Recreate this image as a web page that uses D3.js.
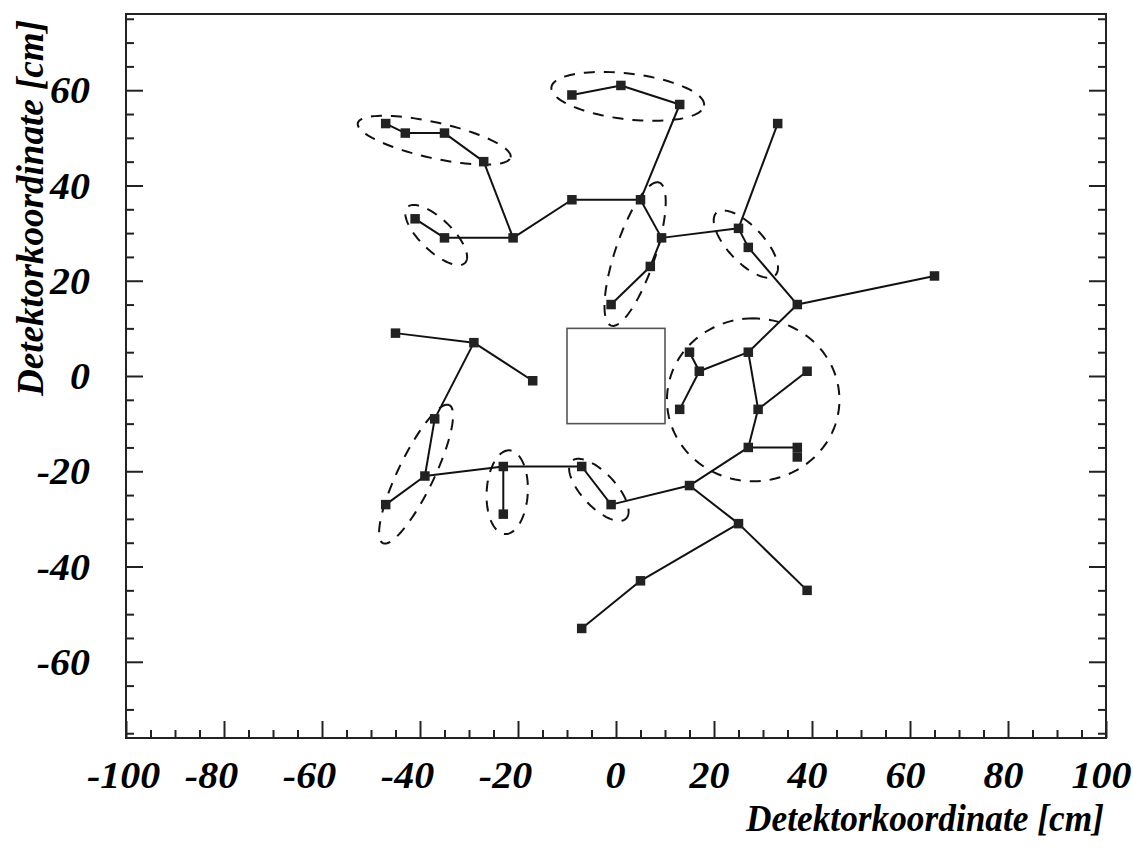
<!DOCTYPE html>
<html>
<head>
<meta charset="utf-8">
<script src="https://cdn.jsdelivr.net/npm/d3@7"></script>
<style>
  html, body { margin: 0; padding: 0; background: #fff; }
  svg { display: block; }
  text { font-family: "Liberation Serif", "Times New Roman", serif; font-weight: bold; font-style: italic; fill: #000; }
</style>
</head>
<body>
<svg id="chart" width="1133" height="852"></svg>
<script>
// Hit positions in detector coordinates [cm]
const hitX = [-47, -43, -35, -27, -21, -35, -41, -9, 5, -9, 1, 13, 9.3, 7, -1, 25, 27, 37, 65, 33,
              15, 27, 17, 13, 29, 39, 27, 37, 37, 15, 25, 5, -7, 39, -7, -1, -45, -29, -17, -37, -39, -47, -23, -23];
const hitY = [53, 51, 51, 45, 29, 29, 33, 37, 37, 59, 61, 57, 29, 23, 15, 31, 27, 15, 21, 53,
              5, 5, 1, -7, -7, 1, -15, -15, -17, -23, -31, -43, -53, -45, -19, -27, 9, 7, -1, -9, -21, -27, -19, -29];

// Tree connections between hits (index pairs)
const links = [[0,1],[1,2],[2,3],[3,4],[6,5],[5,4],[4,7],[7,8],[8,11],[9,10],[10,11],
               [8,12],[12,13],[13,14],[12,15],[15,19],[15,16],[16,17],[17,18],[17,21],
               [21,22],[22,20],[22,23],[21,24],[24,25],[24,26],[26,27],[26,29],
               [29,35],[29,30],[30,31],[31,32],[30,33],[35,34],[34,42],[42,43],[42,40],
               [40,41],[40,39],[39,37],[37,36],[37,38]];

// Cluster ellipses: centre, semi-axes [cm] and orientation [deg]
const ellCx    = [-37.1, -36.7, 2.4, 3.9, 26.5, 28.0, -40.8, -22.2, -3.5];
const ellCy    = [49.5, 29.6, 58.7, 25.6, 27.7, -5.0, -20.6, -24.4, -23.9];
const ellA     = [16.0, 8.3, 15.7, 15.8, 8.9, 17.1, 16.0, 8.8, 8.2];
const ellB     = [3.75, 3.3, 4.8, 4.1, 3.7, 17.6, 3.7, 4.2, 3.5];
const ellAngle = [-13, -45, -7, 72, -48, 90, 65, 87, -48];

// Central beam-pipe opening [cm]
const boxX = [-10, 10];
const boxY = [-10, 10];

// Axis ticks
const xMajor = d3.range(-100, 101, 20);
const xMinor = d3.range(-100, 101, 5).filter(v => v % 20 !== 0);
const yMajor = d3.range(-60, 61, 20);
const yMinor = d3.range(-75, 76, 5).filter(v => v % 20 !== 0);
const xTitle = "Detektorkoordinate [cm]";
const yTitle = "Detektorkoordinate [cm]";

const svg = d3.select("#chart");
const L = 126, R = 1106, T = 14, B = 738;
const x = d3.scaleLinear().domain([-100, 100]).range([L, R]);
const y = d3.scaleLinear().domain([-76, 76]).range([B, T]);
const stretch = 1.08;
const fmt = d => String(d);

// Axes
const ax = svg.append("g").attr("class", "axes");
function styleAxis(g) {
  g.select(".domain").remove();
  g.selectAll(".tick line").attr("stroke", "#222").attr("stroke-width", 2);
}
function styleLabels(sel) {
  sel.attr("font-size", 37).attr("fill", "#000")
    .attr("font-family", "Liberation Serif").attr("font-weight", "bold").attr("font-style", "italic")
    .attr("transform", `scale(${stretch},1)`);
}
ax.append("g").attr("transform", `translate(0,${B})`)
  .call(d3.axisBottom(x).tickValues(xMinor).tickSize(-8).tickFormat(""))
  .call(styleAxis);
ax.append("g").attr("transform", `translate(0,${B})`)
  .call(d3.axisBottom(x).tickValues(xMajor).tickSize(-17).tickPadding(24).tickFormat(fmt))
  .call(styleAxis)
  .call(g => g.selectAll("text").call(styleLabels)
    .attr("x", d => (d === -100 ? -3 : d < 0 ? -13 : d > 0 ? -5 : -1) / stretch));

ax.append("g").attr("transform", `translate(${L},0)`)
  .call(d3.axisLeft(y).tickValues(yMinor).tickSize(-8).tickFormat(""))
  .call(styleAxis);
ax.append("g").attr("transform", `translate(${L},0)`)
  .call(d3.axisLeft(y).tickValues(yMajor).tickSize(-17).tickFormat(fmt))
  .call(styleAxis)
  .call(g => g.selectAll("text").call(styleLabels)
    .attr("text-anchor", "end")
    .attr("x", -36 / stretch).attr("dy", "0.34em"));

ax.append("g").attr("transform", `translate(${R},0)`)
  .call(d3.axisRight(y).tickValues(yMinor).tickSize(-8).tickFormat(""))
  .call(styleAxis);
ax.append("g").attr("transform", `translate(${R},0)`)
  .call(d3.axisRight(y).tickValues(yMajor).tickSize(-17).tickFormat(""))
  .call(styleAxis);

// Frame
svg.append("rect")
  .attr("x", L).attr("y", T).attr("width", R - L).attr("height", B - T)
  .attr("fill", "none").attr("stroke", "#222").attr("stroke-width", 2);

// Axis titles
svg.append("text")
  .attr("x", 1104).attr("y", 831).attr("text-anchor", "end")
  .attr("font-size", 37)
  .attr("textLength", 358).attr("lengthAdjust", "spacingAndGlyphs")
  .text(xTitle);
svg.append("text")
  .attr("transform", "translate(43,396) rotate(-90)")
  .attr("font-size", 37)
  .attr("textLength", 376).attr("lengthAdjust", "spacingAndGlyphs")
  .text(yTitle);

// Central box
svg.append("rect")
  .attr("x", x(boxX[0])).attr("y", y(boxY[1]))
  .attr("width", x(boxX[1]) - x(boxX[0])).attr("height", y(boxY[0]) - y(boxY[1]))
  .attr("fill", "none").attr("stroke", "#555").attr("stroke-width", 1.6);

// Cluster ellipses drawn in detector coordinates
const ellLine = d3.line().x(p => x(p[0])).y(p => y(p[1]));
const ellipses = ellCx.map((cx, i) => {
  const th = ellAngle[i] * Math.PI / 180;
  return d3.range(0, 361, 3).map(t => {
    const u = t * Math.PI / 180;
    const ex = ellA[i] * Math.cos(u), ey = ellB[i] * Math.sin(u);
    return [cx + ex * Math.cos(th) - ey * Math.sin(th), ellCy[i] + ex * Math.sin(th) + ey * Math.cos(th)];
  });
});
svg.append("g").selectAll("path").data(ellipses).join("path")
  .attr("d", ellLine)
  .attr("fill", "none").attr("stroke", "#111").attr("stroke-width", 2)
  .attr("stroke-dasharray", "11,9");

// Connections
svg.append("g").selectAll("line").data(links).join("line")
  .attr("x1", d => x(hitX[d[0]])).attr("y1", d => y(hitY[d[0]]))
  .attr("x2", d => x(hitX[d[1]])).attr("y2", d => y(hitY[d[1]]))
  .attr("stroke", "#111").attr("stroke-width", 2);

// Hits
const s = 9.5;
svg.append("g").selectAll("rect").data(hitX).join("rect")
  .attr("x", (d, i) => x(d) - s / 2).attr("y", (d, i) => y(hitY[i]) - s / 2)
  .attr("width", s).attr("height", s)
  .attr("fill", "#222");
</script>
</body>
</html>
